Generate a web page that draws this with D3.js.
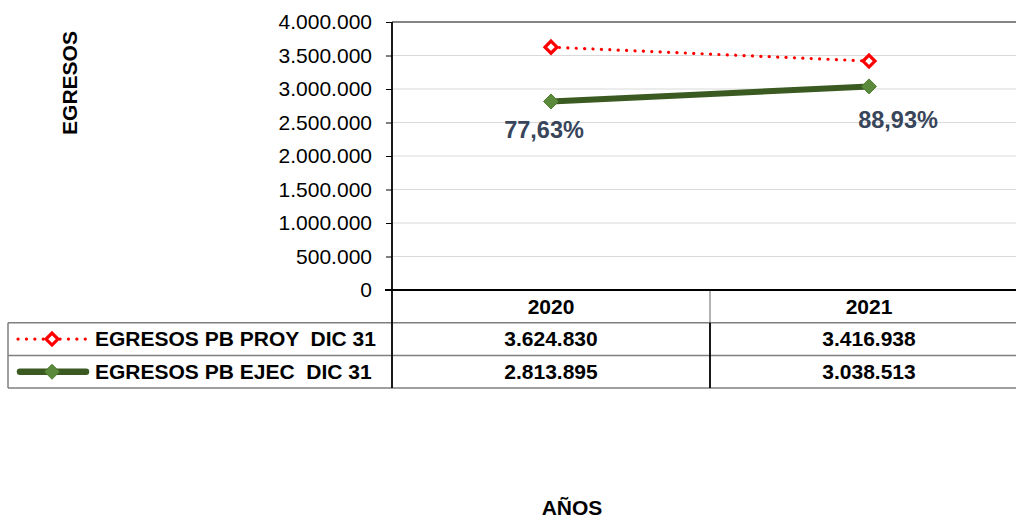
<!DOCTYPE html>
<html><head><meta charset="utf-8">
<script src="https://cdn.jsdelivr.net/npm/d3@7"></script>
<style>
html,body{margin:0;padding:0;background:#fff;}
svg{display:block;font-family:"Liberation Sans",Arial,sans-serif;}
</style></head>
<body>
<svg id="chart" width="1016" height="518"></svg>
<script>
const categories = ["2020", "2021"];
const seriesNames = ["EGRESOS PB PROY  DIC 31", "EGRESOS PB EJEC  DIC 31"];
const proyValues = [3624830, 3416938];
const ejecValues = [2813895, 3038513];
const pctLabels = ["77,63%", "88,93%"];
const yTickValues = [0, 500000, 1000000, 1500000, 2000000, 2500000, 3000000, 3500000, 4000000];
const yTitle = "EGRESOS";
const xTitle = "AÑOS";

const loc = d3.formatLocale({decimal: ",", thousands: ".", grouping: [3], currency: ["", ""]});
const fmt = loc.format(",d");

const svg = d3.select("#chart");
const pL = 392, pR = 1028, pT = 22, pB = 290;
const rowH = 32.7;
const tableLeft = 8;
const fs = "21px";

const x = d3.scaleBand().domain(categories).range([pL, pR]).padding(0);
const y = d3.scaleLinear().domain([0, 4000000]).range([pB, pT]);

// gridlines
svg.append("g").selectAll("line").data(yTickValues.filter(v => v > 0 && v < 4000000)).join("line")
  .attr("x1", pL).attr("x2", pR).attr("y1", d => y(d)).attr("y2", d => y(d))
  .attr("stroke", "#d9d9d9").attr("stroke-width", 1);
// top border
svg.append("line").attr("x1", pL).attr("x2", pR).attr("y1", y(4000000)).attr("y2", y(4000000))
  .attr("stroke", "#858585").attr("stroke-width", 2);

// y axis
const yAxis = d3.axisLeft(y).tickValues(yTickValues).tickFormat(fmt).tickSize(6).tickPadding(14);
const ga = svg.append("g").attr("transform", `translate(${pL},0)`).call(yAxis);
ga.select(".domain").remove();
ga.selectAll(".tick line").attr("stroke", "#000").attr("stroke-width", 1);
ga.selectAll(".tick text").attr("font-size", fs).attr("fill", "#000")
  .attr("font-family", "'Liberation Sans',Arial,sans-serif");

// table lines
const r1 = pB + rowH, r2 = pB + 2 * rowH, r3 = pB + 3 * rowH;
const seg = (x1, y1, x2, y2, c = "#7f7f7f", w = 1.5) =>
  svg.append("line").attr("x1", x1).attr("y1", y1).attr("x2", x2).attr("y2", y2)
    .attr("stroke", c).attr("stroke-width", w);
seg(tableLeft, r1, pR, r1);
seg(tableLeft, r2, pR, r2);
seg(tableLeft, r3, pR, r3);
seg(tableLeft, r1, tableLeft, r3);
const midX = x("2021");
seg(midX, pB, midX, r1, "#7f7f7f", 1.2);
seg(midX, r1, midX, r3, "#000", 1.8);
seg(pL - 7, pB, pR, pB, "#000", 1.8);
seg(pL, pT, pL, r3, "#000", 1.8);

// header cells
svg.append("g").selectAll("text").data(categories).join("text")
  .attr("x", d => x(d) + x.bandwidth() / 2).attr("y", pB + 23.5)
  .attr("text-anchor", "middle").attr("font-weight", "bold").attr("font-size", fs)
  .text(d => d);

const series = [
  {name: seriesNames[0], values: proyValues},
  {name: seriesNames[1], values: ejecValues}
];
series.forEach((s, i) => {
  svg.append("g").selectAll("text").data(s.values).join("text")
    .attr("x", (d, j) => x(categories[j]) + x.bandwidth() / 2)
    .attr("y", pB + rowH * (i + 1) + 23.5)
    .attr("text-anchor", "middle").attr("font-weight", "bold").attr("font-size", fs)
    .text(d => fmt(d));
  svg.append("text").attr("x", 95).attr("y", pB + rowH * (i + 1) + 23.5)
    .attr("font-weight", "bold").attr("font-size", fs)
    .style("white-space", "pre").text(s.name);
});

// lines
const line = d3.line().x((d, j) => x(categories[j]) + x.bandwidth() / 2).y(d => y(d));
svg.append("path").datum(ejecValues).attr("d", line).attr("fill", "none")
  .attr("stroke", "#3a5a22").attr("stroke-width", 6).attr("stroke-linecap", "round");
svg.append("path").datum(proyValues).attr("d", line).attr("fill", "none")
  .attr("stroke", "#ff0000").attr("stroke-width", 3.2).attr("stroke-dasharray", "0.1 8.3")
  .attr("stroke-linecap", "round");

const diamond = (g, cx, cy, r, fill, stroke, sw) =>
  g.append("path").attr("d", `M${cx},${cy - r}L${cx + r},${cy}L${cx},${cy + r}L${cx - r},${cy}Z`)
    .attr("fill", fill).attr("stroke", stroke).attr("stroke-width", sw).attr("stroke-linejoin", "miter");

const mk = svg.append("g");
ejecValues.forEach((v, j) => diamond(mk, x(categories[j]) + x.bandwidth() / 2, y(v), 7.5, "#5a8a3a", "#4f7d31", 1));
proyValues.forEach((v, j) => diamond(mk, x(categories[j]) + x.bandwidth() / 2, y(v), 6, "#fff", "#ff0000", 3.2));

// legend keys
const ly1 = pB + rowH * 1.5, ly2 = pB + rowH * 2.5;
svg.append("line").attr("x1", 18).attr("x2", 87).attr("y1", ly1).attr("y2", ly1)
  .attr("stroke", "#ff0000").attr("stroke-width", 3.2).attr("stroke-dasharray", "0.1 8.3").attr("stroke-linecap", "round");
diamond(svg, 52, ly1, 6, "#fff", "#ff0000", 3.2);
svg.append("line").attr("x1", 20).attr("x2", 86).attr("y1", ly2).attr("y2", ly2)
  .attr("stroke", "#3a5a22").attr("stroke-width", 6.5).attr("stroke-linecap", "round");
diamond(svg, 52, ly2, 7.5, "#5a8a3a", "#4f7d31", 1);

// percentage labels
const pctOffsets = [[-7, 36.5], [29, 41.5]];
svg.append("g").selectAll("text").data(pctLabels).join("text")
  .attr("x", (d, j) => x(categories[j]) + x.bandwidth() / 2 + pctOffsets[j][0])
  .attr("y", (d, j) => y(ejecValues[j]) + pctOffsets[j][1])
  .attr("text-anchor", "middle").attr("font-weight", "bold").attr("font-size", "23.5px")
  .attr("fill", "#38455a").text(d => d);

// axis titles
svg.append("text").attr("transform", "translate(77,83) rotate(-90)")
  .attr("text-anchor", "middle").attr("font-weight", "bold").attr("font-size", fs).text(yTitle);
svg.append("text").attr("x", 572).attr("y", 515).attr("text-anchor", "middle")
  .attr("font-weight", "bold").attr("font-size", fs).text(xTitle);
</script>
</body></html>
